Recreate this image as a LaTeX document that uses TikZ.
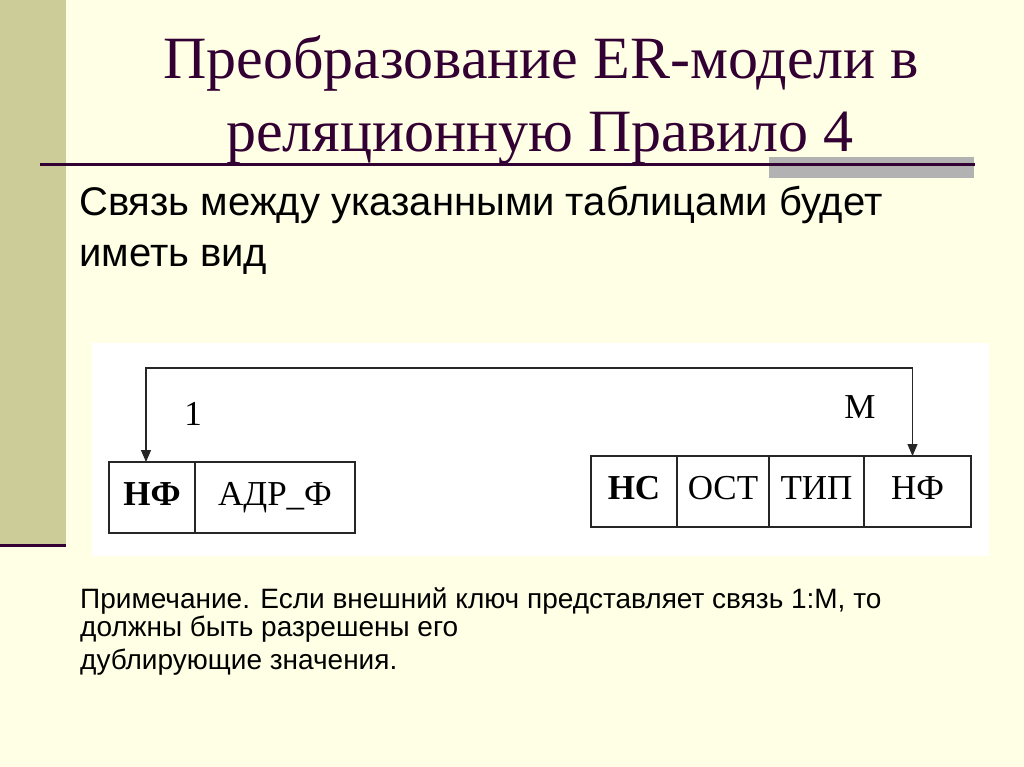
\documentclass[tikz,border=0pt]{standalone}
\usepackage{fontspec}
\setmainfont{Liberation Serif}
\setsansfont{Liberation Sans}
\usetikzlibrary{arrows.meta,positioning}
\definecolor{slidebg}{HTML}{FFFFE5}
\definecolor{sidebar}{HTML}{CCCC99}
\definecolor{maroon}{HTML}{330033}
\definecolor{rulegrey}{HTML}{B2B2B2}

\begin{document}
\begin{tikzpicture}[x=1pt, y=-1pt,
  title/.style={text=maroon, font=\fontsize{60}{66}\selectfont, inner sep=0pt, anchor=base},
  body/.style={font=\sffamily\fontsize{40}{44}\selectfont, inner sep=0pt, anchor=base west},
  note/.style={font=\sffamily\fontsize{28}{32}\selectfont, inner sep=0pt, anchor=base west},
  cell/.style={draw=black!85, line width=1.2pt, minimum height=71pt, inner sep=0pt, outer sep=0pt,
    text height=23pt, text depth=8pt, font=\fontsize{35}{35}\selectfont},
  card/.style={font=\fontsize{35}{35}\selectfont, inner sep=0pt},
  link/.style={draw=black!85, line width=1.2pt, {Triangle[length=12pt,width=10pt]}-{Triangle[length=12pt,width=10pt]}}]
 \useasboundingbox (0,0) rectangle (1024,767);
 % slide background
 \fill[slidebg] (0,0) rectangle (1024,767);
 \fill[sidebar] (0,0) rectangle (66,545);
 \draw[maroon, line width=3pt] (0,545) -- (66,545);
 \fill[rulegrey] (769,157) rectangle (974,178);
 \draw[maroon, line width=3pt] (40,165) -- (975,165);
 % title and text
 \node[title] (title1) at (541,79) {Преобразование ER-модели в};
 \node[title] (title2) at (540,152) {реляционную Правило 4};
 \node[body] (intro1) at (79,216) {Связь между указанными таблицами будет};
 \node[body] (intro2) at (79,266) {иметь вид};
 \node[note] (note1) at (80,608) {Примечание. Если внешний ключ представляет связь 1:М, то};
 \node[note] (note2) at (80,636) {должны быть разрешены его};
 \node[note] (note3) at (80,669) {дублирующие значения.};
 % diagram
 \fill[white] (92,343) rectangle (989,556);
 \node[cell, minimum width=86pt] (nfA) at (152,497.5) {\textbf{НФ}};
 \node[cell, minimum width=160pt, right=0pt of nfA] (adr) {АДР\_Ф};
 \node[cell, minimum width=86pt] (ns) at (634,491.5) {\textbf{НС}};
 \node[cell, minimum width=92pt, right=0pt of ns] (ost) {ОСТ};
 \node[cell, minimum width=95pt, right=0pt of ost] (tip) {ТИП};
 \node[cell, minimum width=107pt, right=0pt of tip] (nfB) {НФ};
 \coordinate (top) at (530,368);
 \draw[link] ([xshift=-6pt]nfA.north) |- (top) -| ([xshift=-5pt]nfB.north);
 \node[card] (card1) at (193,414) {1};
 \node[card] (cardM) at (860,407) {М};
\end{tikzpicture}
\end{document}
